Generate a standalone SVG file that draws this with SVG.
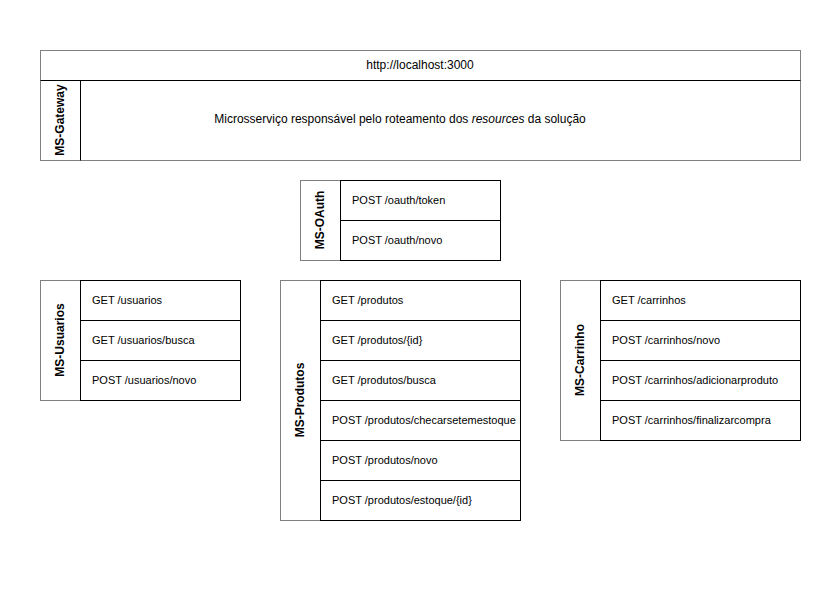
<svg xmlns="http://www.w3.org/2000/svg" width="840" height="600" viewBox="0 0 840 600">
<style>
.outer{fill:#ffffff;stroke:#808080;stroke-width:1}
.row{fill:#ffffff;stroke:#000000;stroke-width:1}
.div{stroke:#000000;stroke-width:1;fill:none}
.t{font-family:"Liberation Sans",Arial,Helvetica,sans-serif;font-size:11px;fill:#000000}
.g{font-family:"Liberation Sans",Arial,Helvetica,sans-serif;font-size:12px;fill:#000000}
.h{font-family:"Liberation Sans",Arial,Helvetica,sans-serif;font-size:12px;font-weight:bold;fill:#000000}
</style>
<rect x="0" y="0" width="840" height="600" fill="#ffffff"/>
<g id="ms-gateway">
<rect class="outer" x="40.5" y="50.5" width="760" height="110"/>
<line class="div" x1="40.5" y1="80.5" x2="800.5" y2="80.5"/>
<line class="div" x1="80.5" y1="80.5" x2="80.5" y2="160.5"/>
<text class="g" x="420" y="69" text-anchor="middle">http://localhost:3000</text>
<text class="h" transform="translate(64,120) rotate(-90)" text-anchor="middle">MS-Gateway</text>
<text class="g" x="400" y="123" text-anchor="middle">Microsserviço responsável pelo roteamento dos <tspan font-style="italic">resources</tspan> da solução</text>
</g>
<g id="ms-oauth">
<rect class="outer" x="300.5" y="180.5" width="200" height="80"/>
<rect class="row" x="340.5" y="180.5" width="160" height="40"/>
<rect class="row" x="340.5" y="220.5" width="160" height="40"/>
<text class="h" transform="translate(324,220) rotate(-90)" text-anchor="middle">MS-OAuth</text>
<text class="t" x="352" y="204">POST /oauth/token</text>
<text class="t" x="352" y="244">POST /oauth/novo</text>
</g>
<g id="ms-usuarios">
<rect class="outer" x="40.5" y="280.5" width="200" height="120"/>
<rect class="row" x="80.5" y="280.5" width="160" height="40"/>
<rect class="row" x="80.5" y="320.5" width="160" height="40"/>
<rect class="row" x="80.5" y="360.5" width="160" height="40"/>
<text class="h" transform="translate(64,340) rotate(-90)" text-anchor="middle">MS-Usuarios</text>
<text class="t" x="92" y="304">GET /usuarios</text>
<text class="t" x="92" y="344">GET /usuarios/busca</text>
<text class="t" x="92" y="384">POST /usuarios/novo</text>
</g>
<g id="ms-produtos">
<rect class="outer" x="280.5" y="280.5" width="240" height="240"/>
<rect class="row" x="320.5" y="280.5" width="200" height="40"/>
<rect class="row" x="320.5" y="320.5" width="200" height="40"/>
<rect class="row" x="320.5" y="360.5" width="200" height="40"/>
<rect class="row" x="320.5" y="400.5" width="200" height="40"/>
<rect class="row" x="320.5" y="440.5" width="200" height="40"/>
<rect class="row" x="320.5" y="480.5" width="200" height="40"/>
<text class="h" transform="translate(304,400) rotate(-90)" text-anchor="middle">MS-Produtos</text>
<text class="t" x="332" y="304">GET /produtos</text>
<text class="t" x="332" y="344">GET /produtos/{id}</text>
<text class="t" x="332" y="384">GET /produtos/busca</text>
<text class="t" x="332" y="424">POST /produtos/checarsetemestoque</text>
<text class="t" x="332" y="464">POST /produtos/novo</text>
<text class="t" x="332" y="504">POST /produtos/estoque/{id}</text>
</g>
<g id="ms-carrinho">
<rect class="outer" x="560.5" y="280.5" width="240" height="160"/>
<rect class="row" x="600.5" y="280.5" width="200" height="40"/>
<rect class="row" x="600.5" y="320.5" width="200" height="40"/>
<rect class="row" x="600.5" y="360.5" width="200" height="40"/>
<rect class="row" x="600.5" y="400.5" width="200" height="40"/>
<text class="h" transform="translate(584,360) rotate(-90)" text-anchor="middle">MS-Carrinho</text>
<text class="t" x="612" y="304">GET /carrinhos</text>
<text class="t" x="612" y="344">POST /carrinhos/novo</text>
<text class="t" x="612" y="384">POST /carrinhos/adicionarproduto</text>
<text class="t" x="612" y="424">POST /carrinhos/finalizarcompra</text>
</g>
<g id="connectors"></g>
</svg>
